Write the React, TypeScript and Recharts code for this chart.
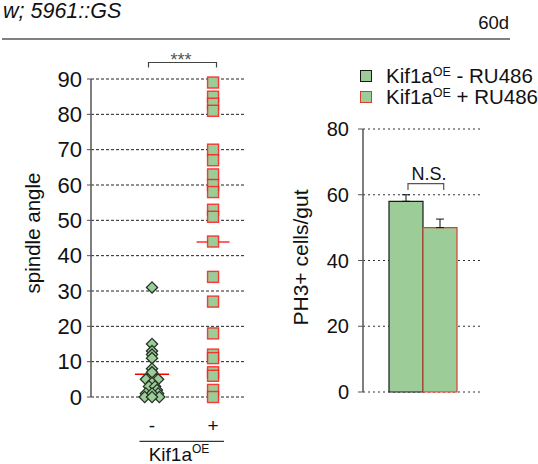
import {
    ScatterChart, Scatter, XAxis, YAxis, CartesianGrid, ReferenceLine,
    BarChart, Bar, ErrorBar, Legend
} from 'recharts';

const FONT = '"Liberation Sans", Arial, Helvetica, sans-serif';
const GREEN = '#9ccc97';

// spindle angle per cell, Kif1aOE - / +
const minusAngles = [31, 15, 13, 12, 11, 8, 7, 5, 5, 4, 3, 3, 2, 1, 1, 1, 0, 0, 0];
const minusJitter = [0, 0, 0, 0, 0, 0, 0, -0.1, 0.1, 0, -0.05, 0.05, 0.08, -0.1, 0.1, 0, -0.12, 0.12, 0];
const plusAngles = [89, 85, 83, 81, 70, 67, 63, 60, 58, 53, 51, 44, 34, 27, 18, 12, 11, 7, 6, 2, 0];
const angleTicks = [0, 10, 20, 30, 40, 50, 60, 70, 80, 90];
const groupLabels = ['-', '+'];

// PH3+ cells per gut
const ph3Groups = ['60d'];
const ph3Minus = [58];
const ph3Plus = [50];
const ph3MinusSem = [2];
const ph3PlusSem = [2.6];
const ph3Ticks = [0, 20, 40, 60, 80];
const legendLabels = ['- RU486', '+ RU486'];

const mean = (a: number[]) => a.reduce((s, v) => s + v, 0) / a.length;

const minusPoints = minusAngles.map((y, i) => ({ x: 1 + minusJitter[i], y }));
const plusPoints = plusAngles.map((y) => ({ x: 2, y }));

const ph3Data = ph3Groups.map((g, i) => ({
    group: g,
    minus: ph3Minus[i],
    plus: ph3Plus[i],
    minusErr: [0, ph3MinusSem[i]],
    plusErr: [0, ph3PlusSem[i]],
}));

const Diamond = (p: any) => {
    const { cx, cy } = p;
    const r = 5.6;
    return (
        <path
            d={`M${cx} ${cy - r}L${cx + r} ${cy}L${cx} ${cy + r}L${cx - r} ${cy}Z`}
            fill={GREEN}
            stroke="#263326"
            strokeWidth={1.3}
        />
    );
};

const Square = (p: any) => {
    const { cx, cy } = p;
    const s = 11;
    return (
        <rect
            x={cx - s / 2}
            y={cy - s / 2}
            width={s}
            height={s}
            fill={GREEN}
            stroke="#ff1a1a"
            strokeOpacity={0.85}
            strokeWidth={1.4}
        />
    );
};

const sideLabel = (text: string, x: number, size: number, shift: number) => (props: any) => {
    const vb = props.viewBox;
    const cy = vb.y + vb.height / 2 + shift;
    return (
        <text
            x={x}
            y={cy}
            transform={`rotate(-90 ${x} ${cy})`}
            textAnchor="middle"
            dominantBaseline="central"
            fontSize={size}
            fontFamily={FONT}
            fill="#111"
        >
            {text}
        </text>
    );
};

const LegendBox = () => {
    const strokes = ['#1a1a1a', '#d8402a'];
    return (
        <div style={{ fontFamily: FONT, fontSize: 20.5, color: '#111' }}>
            {legendLabels.map((l, i) => (
                <div key={l} style={{ display: 'flex', alignItems: 'center', height: 21, whiteSpace: 'nowrap' }}>
                    <span
                        style={{
                            display: 'inline-block', width: 10, height: 10, background: GREEN,
                            border: `1px solid ${strokes[i]}`, marginRight: 14,
                        }}
                    />
                    <span>
                        Kif1a<span style={{ fontSize: 12.5, position: 'relative', top: -7 }}>OE</span> {l}
                    </span>
                </div>
            ))}
        </div>
    );
};

export default function App() {
    const leftTick = { fontSize: 22, fill: '#111', fontFamily: FONT };
    const rightTick = { fontSize: 20, fill: '#111', fontFamily: FONT };
    const minusMean = mean(minusAngles);
    const plusMean = mean(plusAngles);

    return (
        <div style={{ position: 'absolute', left: 0, top: 0, width: 538, height: 464, background: '#fff', fontFamily: FONT }}>
            <div style={{ position: 'absolute', left: 0, top: 0 }}>
                <ScatterChart width={260} height={464} margin={{ top: 79, right: 14, bottom: 27, left: 0 }}>
                    <CartesianGrid vertical={false} stroke="#222" strokeDasharray="3 2" />
                    <XAxis
                        type="number"
                        dataKey="x"
                        domain={[0, 2.54]}
                        ticks={[1, 2]}
                        tickFormatter={(v) => groupLabels[v - 1]}
                        axisLine={false}
                        tickLine={false}
                        tickSize={0}
                        tickMargin={22}
                        height={40}
                        tick={{ fontSize: 19, fill: '#111', fontFamily: FONT }}
                    />
                    <YAxis
                        type="number"
                        dataKey="y"
                        domain={[0, 90]}
                        ticks={angleTicks}
                        interval={0}
                        width={91}
                        axisLine={{ stroke: '#555', strokeWidth: 1.5 }}
                        tickLine={{ stroke: '#555' }}
                        tickSize={4}
                        tickMargin={5}
                        tick={leftTick}
                        label={sideLabel('spindle angle', 32, 20.5, -5)}
                    />
                    <Scatter data={minusPoints} shape={Diamond} isAnimationActive={false} />
                    <Scatter data={plusPoints} shape={Square} isAnimationActive={false} />
                    <ReferenceLine
                        segment={[{ x: 0.72, y: minusMean }, { x: 1.28, y: minusMean }]}
                        stroke="#ff0000"
                        strokeWidth={1.5}
                    />
                    <ReferenceLine
                        segment={[{ x: 1.73, y: plusMean }, { x: 2.27, y: plusMean }]}
                        stroke="#ff3030"
                        strokeWidth={1.5}
                    />
                </ScatterChart>
            </div>

            <div style={{ position: 'absolute', left: 280, top: 0 }}>
                <BarChart
                    width={258}
                    height={464}
                    data={ph3Data}
                    margin={{ top: 129, right: 55, bottom: 72, left: 0 }}
                    barGap={0}
                    barSize={34}
                >
                    <CartesianGrid vertical={false} stroke="#333" strokeDasharray="2 3" />
                    <XAxis dataKey="group" hide />
                    <YAxis
                        domain={[0, 80]}
                        ticks={ph3Ticks}
                        interval={0}
                        width={83}
                        axisLine={{ stroke: '#555', strokeWidth: 1.5 }}
                        tickLine={{ stroke: '#555' }}
                        tickSize={5}
                        tickMargin={9}
                        tick={rightTick}
                        label={sideLabel('PH3+ cells/gut', 20, 21, -3)}
                    />
                    <Legend
                        layout="vertical"
                        align="center"
                        verticalAlign="middle"
                        wrapperStyle={{ left: 80, top: 65 }}
                        content={() => <LegendBox />}
                    />
                    <Bar dataKey="minus" fill={GREEN} stroke="#1a1a1a" strokeWidth={1.2} isAnimationActive={false}>
                        <ErrorBar dataKey="minusErr" direction="y" width={4} stroke="#111" strokeWidth={1} />
                    </Bar>
                    <Bar dataKey="plus" fill={GREEN} stroke="#d8402a" strokeWidth={1.2} isAnimationActive={false}>
                        <ErrorBar dataKey="plusErr" direction="y" width={4} stroke="#111" strokeWidth={1} />
                    </Bar>
                </BarChart>
            </div>

            <svg width={538} height={464} style={{ position: 'absolute', left: 0, top: 0, pointerEvents: 'none' }} fontFamily={FONT}>
                <text x={3} y={18} fontSize={21.5} fontStyle="italic" fill="#111">w; 5961::GS</text>
                <text x={509} y={29} fontSize={18.5} textAnchor="end" fill="#111">60d</text>
                <line x1={2} x2={510} y1={39} y2={39} stroke="#808080" strokeWidth={2} />

                <text x={181} y={66} fontSize={18} textAnchor="middle" fill="#555">***</text>
                <path d="M148.5 67.5V62.5H216.5V67.5" fill="none" stroke="#444" strokeWidth={1.2} />

                <text x={429} y={180} fontSize={18} textAnchor="middle" fill="#111">N.S.</text>
                <path d="M408 190V183.7H443.7V190" fill="none" stroke="#555" strokeWidth={1.2} />

                <line x1={139.5} x2={224} y1={441.3} y2={441.3} stroke="#333" strokeWidth={1.2} />
                <text x={179} y={460.5} textAnchor="middle" fontSize={19} fill="#111">
                    Kif1a<tspan dy={-8} fontSize={12}>OE</tspan>
                </text>
            </svg>
        </div>
    );
}
